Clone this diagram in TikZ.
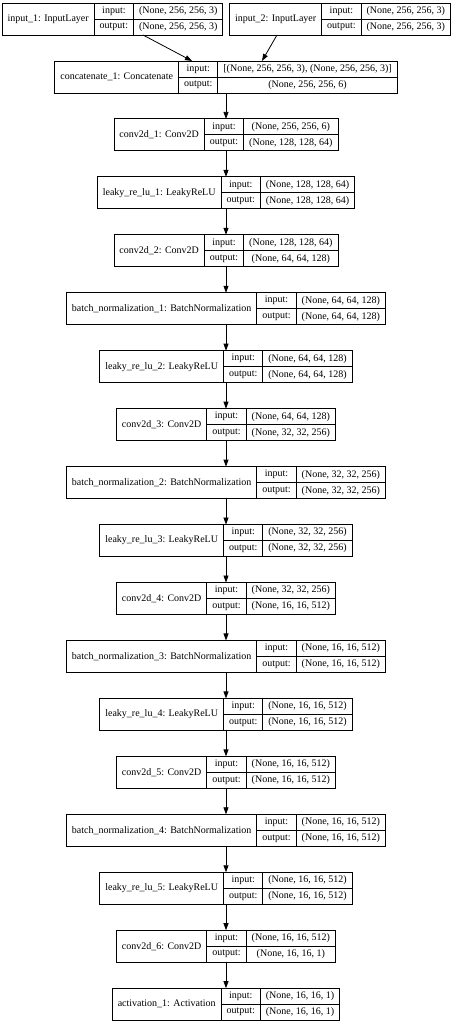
\documentclass[tikz,border=0pt]{standalone}
\usepackage{fontspec}
\setmainfont{Liberation Serif}
\usetikzlibrary{arrows.meta}
\newlength\LayLw
\newlength\LayVw
\newlength\LayVt
\newlength\LayOw
\newlength\LayTw
\newlength\LayXa
\newlength\LayXb
\newlength\LayXc
\newlength\LayXd
\newlength\LayXe
\newcommand\lfont{\fontsize{10}{12}\selectfont}
% measured outside the picture: #1 name, #2 label, #3 input, #4 output
\newcommand\deflayer[4]{%
  \settowidth\LayLw{\lfont #2}\addtolength\LayLw{11pt}%
  \settowidth\LayVw{\lfont #3}\settowidth\LayVt{\lfont #4}%
  \ifdim\LayVt>\LayVw \LayVw=\LayVt\fi
  \addtolength\LayVw{11pt}%
  \settowidth\LayOw{\lfont output:}\addtolength\LayOw{11pt}%
  \expandafter\xdef\csname lay-#1-lw\endcsname{\the\LayLw}%
  \expandafter\xdef\csname lay-#1-ow\endcsname{\the\LayOw}%
  \expandafter\xdef\csname lay-#1-vw\endcsname{\the\LayVw}%
  \expandafter\gdef\csname lay-#1-lab\endcsname{#2}%
  \expandafter\gdef\csname lay-#1-in\endcsname{#3}%
  \expandafter\gdef\csname lay-#1-out\endcsname{#4}%
}
% placed inside the picture: #1 name, #2 x centre, #3 y centre
\newcommand\placelayer[3]{%
  \LayLw=\csname lay-#1-lw\endcsname\relax
  \LayOw=\csname lay-#1-ow\endcsname\relax
  \LayVw=\csname lay-#1-vw\endcsname\relax
  \LayTw=\dimexpr\LayLw+\LayOw+\LayVw\relax
  \LayXa=\dimexpr\LayLw/2\relax
  \LayXb=\LayLw
  \LayXc=\dimexpr\LayLw+\LayOw/2\relax
  \LayXd=\dimexpr\LayLw+\LayOw\relax
  \LayXe=\dimexpr\LayLw+\LayOw+\LayVw/2\relax
  \node[laybox, minimum width=\LayTw] (#1) at (#2,#3) {};
  \draw[layline] ([xshift=\LayXb]#1.north west) -- ([xshift=\LayXb]#1.south west);
  \draw[layline] ([xshift=\LayXd]#1.north west) -- ([xshift=\LayXd]#1.south west);
  \draw[layline] ([xshift=\LayXb]#1.west) -- (#1.east);
  \node[laytxt] (#1-l) at ([xshift=\LayXa]#1.west) {\csname lay-#1-lab\endcsname};
  \node[laytxt] (#1-i) at ([xshift=\LayXc,yshift=8pt]#1.west) {input:};
  \node[laytxt] (#1-o) at ([xshift=\LayXc,yshift=-8pt]#1.west) {output:};
  \node[laytxt] (#1-iv) at ([xshift=\LayXe,yshift=8pt]#1.west) {\csname lay-#1-in\endcsname};
  \node[laytxt] (#1-ov) at ([xshift=\LayXe,yshift=-8pt]#1.west) {\csname lay-#1-out\endcsname};
}
\begin{document}
\deflayer{in1}{input\_1: InputLayer}{(None, 256, 256, 3)}{(None, 256, 256, 3)}%
\deflayer{in2}{input\_2: InputLayer}{(None, 256, 256, 3)}{(None, 256, 256, 3)}%
\deflayer{cat}{concatenate\_1: Concatenate}{[(None, 256, 256, 3), (None, 256, 256, 3)]}{(None, 256, 256, 6)}%
\deflayer{c1}{conv2d\_1: Conv2D}{(None, 256, 256, 6)}{(None, 128, 128, 64)}%
\deflayer{l1}{leaky\_re\_lu\_1: LeakyReLU}{(None, 128, 128, 64)}{(None, 128, 128, 64)}%
\deflayer{c2}{conv2d\_2: Conv2D}{(None, 128, 128, 64)}{(None, 64, 64, 128)}%
\deflayer{b1}{batch\_normalization\_1: BatchNormalization}{(None, 64, 64, 128)}{(None, 64, 64, 128)}%
\deflayer{l2}{leaky\_re\_lu\_2: LeakyReLU}{(None, 64, 64, 128)}{(None, 64, 64, 128)}%
\deflayer{c3}{conv2d\_3: Conv2D}{(None, 64, 64, 128)}{(None, 32, 32, 256)}%
\deflayer{b2}{batch\_normalization\_2: BatchNormalization}{(None, 32, 32, 256)}{(None, 32, 32, 256)}%
\deflayer{l3}{leaky\_re\_lu\_3: LeakyReLU}{(None, 32, 32, 256)}{(None, 32, 32, 256)}%
\deflayer{c4}{conv2d\_4: Conv2D}{(None, 32, 32, 256)}{(None, 16, 16, 512)}%
\deflayer{b3}{batch\_normalization\_3: BatchNormalization}{(None, 16, 16, 512)}{(None, 16, 16, 512)}%
\deflayer{l4}{leaky\_re\_lu\_4: LeakyReLU}{(None, 16, 16, 512)}{(None, 16, 16, 512)}%
\deflayer{c5}{conv2d\_5: Conv2D}{(None, 16, 16, 512)}{(None, 16, 16, 512)}%
\deflayer{b4}{batch\_normalization\_4: BatchNormalization}{(None, 16, 16, 512)}{(None, 16, 16, 512)}%
\deflayer{l5}{leaky\_re\_lu\_5: LeakyReLU}{(None, 16, 16, 512)}{(None, 16, 16, 512)}%
\deflayer{c6}{conv2d\_6: Conv2D}{(None, 16, 16, 512)}{(None, 16, 16, 1)}%
\deflayer{a1}{activation\_1: Activation}{(None, 16, 16, 1)}{(None, 16, 16, 1)}%
\begin{tikzpicture}[x=1pt,y=-1pt,
  laybox/.style={draw=black, line width=0.8pt, minimum height=32pt, inner sep=0pt, outer sep=0pt},
  layline/.style={draw=black, line width=0.8pt},
  laytxt/.style={font=\lfont, inner sep=0pt, text=black},
  arr/.style={draw=black, line width=0.8pt, -{Triangle[length=7pt,width=5pt]}}]
\useasboundingbox (0,0) rectangle (453,1024);
\placelayer{in1}{112.5}{19}
\placelayer{in2}{340}{19}
\placelayer{cat}{226}{76.95}
\placelayer{c1}{226}{134.9}
\placelayer{l1}{226}{192.85}
\placelayer{c2}{226}{250.8}
\placelayer{b1}{226}{308.75}
\placelayer{l2}{226}{366.7}
\placelayer{c3}{226}{424.65}
\placelayer{b2}{226}{482.6}
\placelayer{l3}{226}{540.55}
\placelayer{c4}{226}{598.5}
\placelayer{b3}{226}{656.45}
\placelayer{l4}{226}{714.4}
\placelayer{c5}{226}{772.35}
\placelayer{b4}{226}{830.3}
\placelayer{l5}{226}{888.25}
\placelayer{c6}{226}{946.2}
\placelayer{a1}{226}{1004.15}
\draw[arr] ([xshift=30.5pt]in1.south) -- ([xshift=-34pt]cat.north);
\draw[arr] ([xshift=-63pt]in2.south) -- ([xshift=36pt]cat.north);
\foreach \a/\b in {cat/c1,c1/l1,l1/c2,c2/b1,b1/l2,l2/c3,c3/b2,b2/l3,l3/c4,c4/b3,b3/l4,l4/c5,c5/b4,b4/l5,l5/c6,c6/a1}
  \draw[arr] (\a.south) -- (\b.north);
\end{tikzpicture}
\end{document}
